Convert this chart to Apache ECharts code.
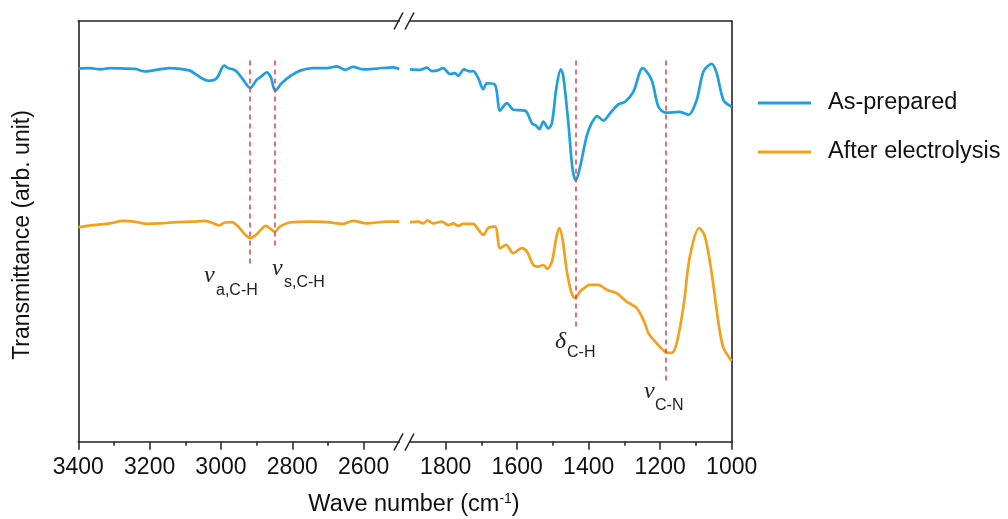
<!DOCTYPE html>
<html>
<head>
<meta charset="utf-8">
<script src="https://cdn.jsdelivr.net/npm/echarts@6/dist/echarts.min.js"></script>
<style>
  html, body { margin: 0; padding: 0; background: #fff; }
  #chart { width: 1008px; height: 519px; }
</style>
</head>
<body>
<div id="chart"></div>
<script>
// wave numbers (cm-1) and transmittance (arb. unit)
const blueLeftWave = [3400, 3367, 3339, 3311, 3269, 3240, 3213, 3171, 3143, 3115, 3087, 3068, 3050, 3035, 3012, 2991, 2980, 2966, 2956, 2939, 2918, 2900, 2886, 2872, 2860, 2848, 2830, 2806, 2778, 2742, 2703, 2675, 2652, 2630, 2602, 2563, 2517, 2500]
const blueLeftT = [88.7, 88.8, 88.5, 88.8, 88.7, 88.6, 88.0, 88.5, 88.8, 88.6, 88.2, 87.2, 86.2, 85.8, 86.4, 89.4, 88.8, 88.5, 88.0, 86.2, 84.1, 86.0, 86.9, 87.8, 86.6, 83.4, 85.2, 86.9, 88.2, 88.8, 88.8, 89.2, 88.4, 89.1, 88.5, 88.7, 89.0, 88.6]

const blueRightWave = [1900, 1872, 1853, 1839, 1825, 1807, 1788, 1774, 1765, 1749, 1732, 1723, 1709, 1695, 1685, 1662, 1648, 1629, 1611, 1578, 1559, 1547, 1538, 1527, 1513, 1503, 1490, 1478, 1471, 1457, 1445, 1436, 1424, 1406, 1392, 1376, 1359, 1340, 1317, 1298, 1275, 1249, 1224, 1205, 1184, 1145, 1121, 1098, 1079, 1056, 1042, 1023, 1000]
const blueRightT = [88.5, 88.4, 88.9, 88.1, 88.2, 88.8, 87.4, 87.6, 87.0, 88.5, 88.0, 88.1, 86.4, 83.8, 85.2, 84.8, 78.7, 80.5, 78.9, 78.7, 75.7, 75.1, 74.3, 76.1, 74.5, 75.7, 84.4, 88.5, 86.8, 75.7, 64.6, 62.1, 65.4, 72.5, 75.7, 77.4, 76.3, 78.1, 80.2, 80.8, 83.2, 88.8, 86.0, 79.6, 78.2, 78.4, 77.7, 81.2, 88.0, 89.8, 87.6, 81.2, 79.6]

const orangeLeftWave = [3400, 3358, 3311, 3274, 3236, 3208, 3171, 3124, 3078, 3045, 3021, 3005, 2989, 2970, 2951, 2932, 2918, 2900, 2874, 2858, 2849, 2835, 2807, 2751, 2703, 2657, 2629, 2591, 2535, 2500]
const orangeLeftT = [51.0, 51.5, 51.9, 52.5, 52.2, 51.8, 51.9, 52.2, 52.3, 52.5, 51.9, 51.4, 52.1, 52.2, 51.1, 49.2, 48.4, 49.3, 51.3, 50.4, 49.9, 51.1, 52.1, 52.3, 52.2, 51.8, 52.5, 51.9, 52.3, 52.3]

const orangeRightWave = [1900, 1877, 1863, 1851, 1835, 1811, 1793, 1779, 1765, 1751, 1723, 1709, 1695, 1681, 1662, 1648, 1631, 1611, 1587, 1573, 1555, 1541, 1527, 1516, 1503, 1490, 1482, 1473, 1462, 1448, 1438, 1424, 1396, 1373, 1350, 1322, 1294, 1266, 1243, 1233, 1210, 1182, 1168, 1154, 1135, 1117, 1091, 1075, 1056, 1037, 1023, 1000]
const orangeRightT = [52.2, 52.3, 51.9, 52.6, 51.9, 52.3, 51.5, 51.9, 51.3, 51.8, 51.8, 50.4, 49.2, 50.8, 51.1, 46.0, 46.8, 44.8, 46.0, 45.2, 42.0, 41.6, 42.0, 41.1, 42.8, 48.8, 50.8, 48.0, 40.9, 35.3, 34.1, 35.7, 37.3, 37.3, 36.1, 35.3, 33.3, 31.8, 28.2, 25.8, 23.4, 21.2, 21.1, 23.4, 32.1, 44.0, 50.8, 48.8, 40.1, 28.2, 22.3, 19.2]

// red dashed guide lines: wave number, top and bottom end
const leftMarks = [[2918, 90.6, 41.5], [2850, 90.6, 46.1]]
const rightMarks = [[1436, 90.6, 27.2], [1184, 90.6, 14.0]]

const leftTicks = { min: 2600, max: 3400 }
const rightTicks = { min: 1000, max: 1800 }

const BLUE = '#1E9FE3'
const ORANGE = '#F5A01A'
const AXIS = '#222'
const FONT = 'Liberation Sans, Arial, sans-serif'

const zip = (xs, ys) => xs.map((x, i) => [x, ys[i]])
const marks = list => list.map(m => [{ coord: [m[0], m[1]] }, { coord: [m[0], m[2]] }])

const gridTop = 21, gridH = 420.7
const lineAxis = (grid, min, max, pos) => ({
  type: 'value', gridIndex: grid, min, max, inverse: true, position: pos,
  axisLine: { show: true, onZero: false, lineStyle: { color: AXIS, width: 1.6 } },
  axisTick: { show: false }, axisLabel: { show: false }, splitLine: { show: false }
})
const tickAxis = (grid, min, max) => ({
  type: 'value', gridIndex: grid, min, max, interval: 200, inverse: true,
  axisLine: { show: false, onZero: false },
  axisTick: { show: true, length: 8, lineStyle: { color: AXIS, width: 1.5 } },
  minorTick: { show: true, splitNumber: 2, length: 4, lineStyle: { color: AXIS, width: 1.5 } },
  axisLabel: { show: true, margin: 14, fontSize: 23, color: '#111', fontFamily: FONT, formatter: v => String(v) },
  splitLine: { show: false }, minorSplitLine: { show: false }
})
const yAxis = (grid, show, pos) => ({
  type: 'value', gridIndex: grid, min: 0, max: 100, position: pos, show,
  axisLine: { show: true, lineStyle: { color: AXIS, width: 1.6 } },
  axisTick: { show: false }, axisLabel: { show: false }, splitLine: { show: false }
})

const markLine = list => ({
  silent: true, symbol: ['none', 'none'], label: { show: false }, animation: false,
  lineStyle: { color: '#EE3B45', width: 1.5, type: [5, 4] },
  data: marks(list)
})
const curve = (name, color, xi, yi, data, ml) => ({
  name, type: 'line', xAxisIndex: xi, yAxisIndex: yi, data,
  showSymbol: false, symbol: 'none', smooth: 0.3,
  lineStyle: { color, width: 2.7 }, itemStyle: { color },
  emphasis: { disabled: true }, markLine: ml
})
const legend = (name, y) => ({
  data: [{ name, icon: 'path://M0,0H53V3H0Z' }], left: 758, top: y, orient: 'vertical', padding: 0,
  itemWidth: 53, itemHeight: 3, selectedMode: false,
  textStyle: { fontSize: 23.5, color: '#111', fontFamily: FONT, padding: [0, 0, 0, 12] }
})

const slash = (cx, cy) => ({
  type: 'line', shape: { x1: cx - 4.5, y1: cy + 8.5, x2: cx + 4.5, y2: cy - 8.5 },
  style: { stroke: AXIS, lineWidth: 1.6 }
})
const txt = (text, x, y, font) => ({
  type: 'text', x, y,
  style: { text, font, fill: '#222', align: 'left', verticalAlign: 'middle' }
})

const chart = echarts.init(document.getElementById('chart'), null, { renderer: 'canvas' })
chart.setOption({
  animation: false,
  backgroundColor: '#fff',
  grid: [
    { left: 78.3, top: gridTop, width: 321, height: gridH },
    { left: 78.3, top: gridTop, width: 285.3, height: gridH },
    { left: 410, top: gridTop, width: 321.7, height: gridH },
    { left: 445.7, top: gridTop, width: 286, height: gridH }
  ],
  xAxis: [
    lineAxis(0, 2500, 3400, 'bottom'),
    lineAxis(0, 2500, 3400, 'top'),
    tickAxis(1, leftTicks.min, leftTicks.max),
    lineAxis(2, 1000, 1900, 'bottom'),
    lineAxis(2, 1000, 1900, 'top'),
    tickAxis(3, rightTicks.min, rightTicks.max)
  ],
  yAxis: [yAxis(0, true, 'left'), yAxis(1, false, 'left'), yAxis(2, true, 'right'), yAxis(3, false, 'left')],
  legend: [legend('As-prepared', 91), legend('After electrolysis', 140)],
  series: [
    curve('As-prepared', BLUE, 0, 0, zip(blueLeftWave, blueLeftT), markLine(leftMarks)),
    curve('As-prepared', BLUE, 3, 2, zip(blueRightWave, blueRightT), markLine(rightMarks)),
    curve('After electrolysis', ORANGE, 0, 0, zip(orangeLeftWave, orangeLeftT)),
    curve('After electrolysis', ORANGE, 3, 2, zip(orangeRightWave, orangeRightT))
  ],
  graphic: [
    slash(398.5, 442), slash(409.5, 442), slash(398.5, 21), slash(409.5, 21),
    // axis titles
    {
      type: 'text', x: 414, y: 505,
      style: {
        text: '{n|Wave number (cm}{s|-1}{n|)}', align: 'center', verticalAlign: 'middle',
        rich: {
          n: { fontSize: 23.5, fontFamily: FONT, fill: '#111', lineHeight: 26 },
          s: { fontSize: 14, fontFamily: FONT, fill: '#111', lineHeight: 26, verticalAlign: 'top', padding: [0, 0, 10, 0] }
        }
      }
    },
    {
      type: 'text', x: 23, y: 235, rotation: Math.PI / 2,
      style: { text: 'Transmittance (arb. unit)', font: '23px ' + FONT, fill: '#111', align: 'center', verticalAlign: 'middle' }
    },
    // band labels
    txt('ν', 204, 276, 'italic 24px Liberation Serif, serif'),
    txt('a,C-H', 216, 291, '16px ' + FONT),
    txt('ν', 272, 269, 'italic 24px Liberation Serif, serif'),
    txt('s,C-H', 284, 282.5, '16px ' + FONT),
    txt('δ', 555, 342, 'italic 24px Liberation Serif, serif'),
    txt('C-H', 567, 352.5, '16px ' + FONT),
    txt('ν', 644, 392, 'italic 24px Liberation Serif, serif'),
    txt('C-N', 655, 406, '16px ' + FONT)
  ]
})
</script>
</body>
</html>
